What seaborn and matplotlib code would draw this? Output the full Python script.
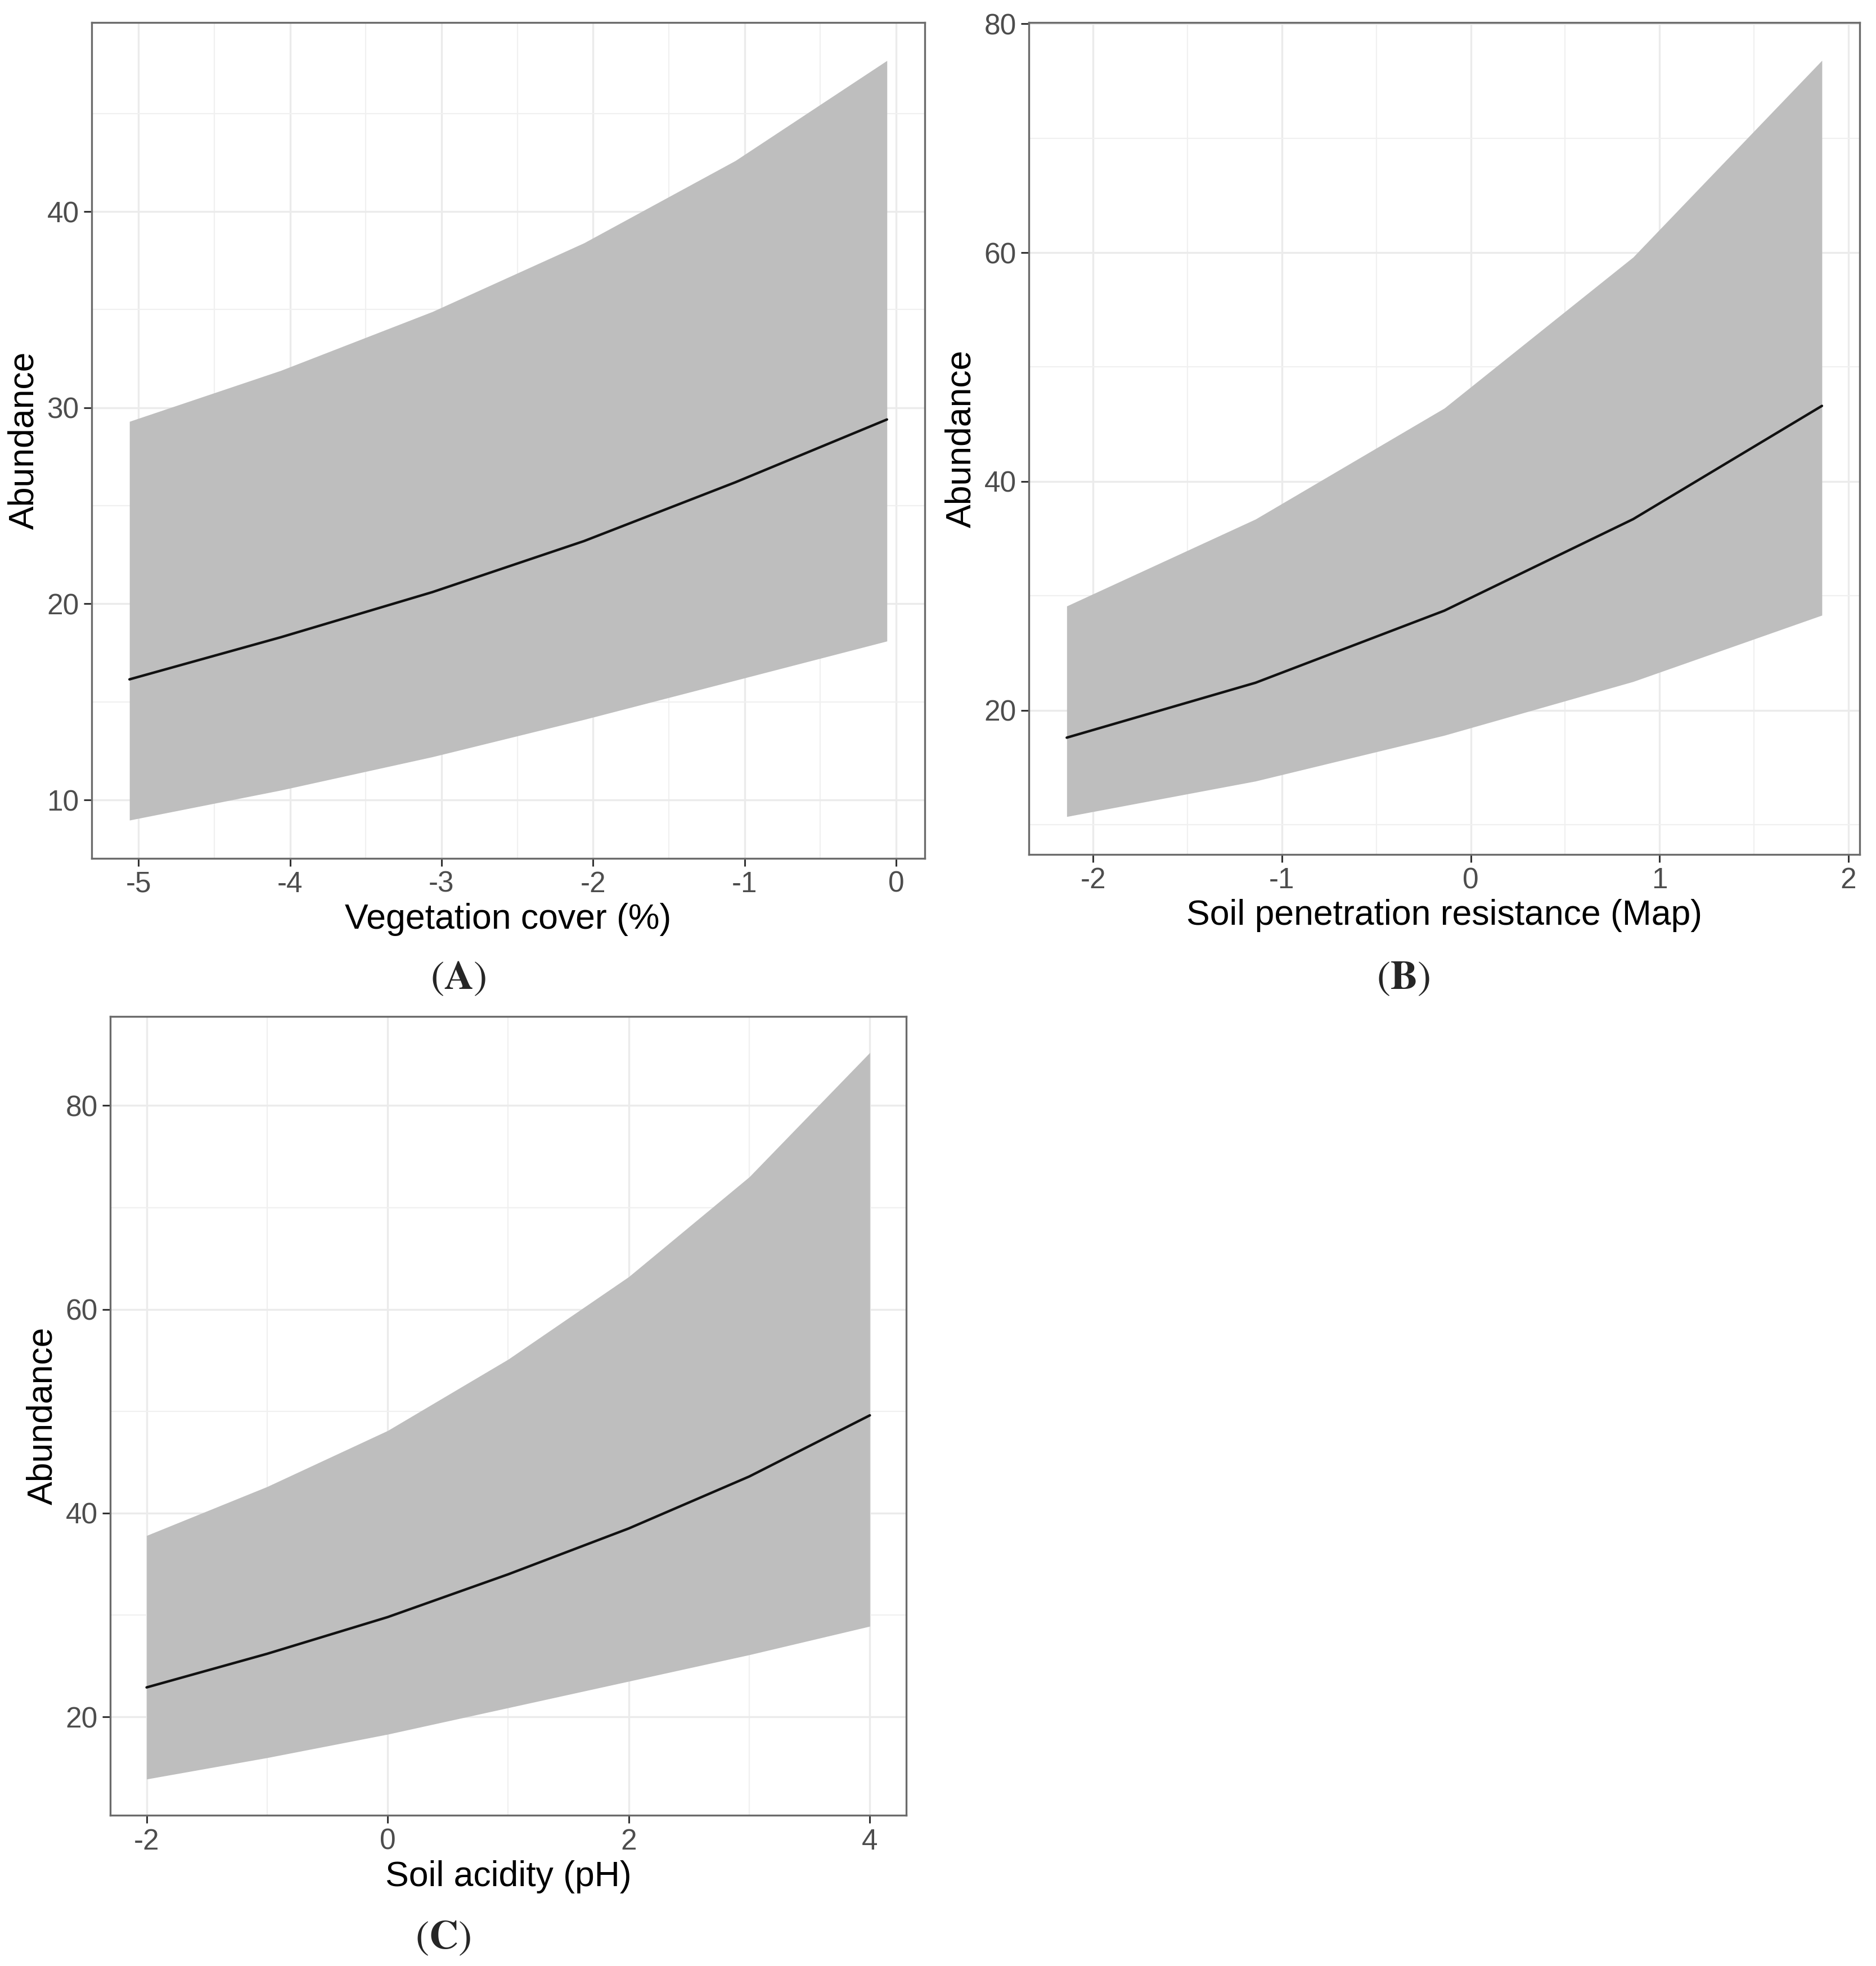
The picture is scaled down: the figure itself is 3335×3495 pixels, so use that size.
import numpy as np
import pandas as pd
import matplotlib
matplotlib.use("Agg")
import matplotlib.pyplot as plt
import seaborn as sns
from matplotlib.ticker import MultipleLocator

# Panel A: vegetation cover
veg_x = [-5.06, -4.06, -3.06, -2.06, -1.06, -0.06]
veg_fit = [16.15, 18.3, 20.6, 23.2, 26.2, 29.4]
veg_low = [8.97, 10.5, 12.2, 14.1, 16.1, 18.1]
veg_high = [29.3, 31.9, 34.9, 38.4, 42.6, 47.7]

# Panel B: soil penetration resistance
spr_x = [-2.14, -1.14, -0.14, 0.86, 1.86]
spr_fit = [17.6, 22.4, 28.7, 36.7, 46.6]
spr_low = [10.7, 13.8, 17.8, 22.5, 28.3]
spr_high = [29.1, 36.7, 46.4, 59.6, 76.8]

# Panel C: soil acidity
ph_x = [-2, -1, 0, 1, 2, 3, 4]
ph_fit = [22.9, 26.2, 29.8, 34.0, 38.5, 43.6, 49.6]
ph_low = [13.9, 16.0, 18.3, 20.9, 23.5, 26.1, 28.9]
ph_high = [37.8, 42.6, 48.1, 55.1, 63.2, 73.0, 85.2]

sns.set_theme(style="white")
plt.rcParams["font.family"] = ["Liberation Sans", "DejaVu Sans"]
plt.rcParams["mathtext.fontset"] = "stix"
plt.rcParams["axes.unicode_minus"] = False

fig = plt.figure(figsize=(16.675, 17.475), dpi=200)
W, H = 1495, 1567

def add_axes(l, t, r, b):
    return fig.add_axes([l / W, 1 - b / H, (r - l) / W, (b - t) / H])

panels = [
    (add_axes(73, 18, 737, 684), veg_x, veg_fit, veg_low, veg_high,
     "Vegetation cover (%)", 1, 0.5, 10, 5),
    (add_axes(820, 18, 1482, 681), spr_x, spr_fit, spr_low, spr_high,
     "Soil penetration resistance (Map)", 1, 0.5, 20, 10),
    (add_axes(88, 810, 722, 1447), ph_x, ph_fit, ph_low, ph_high,
     "Soil acidity (pH)", 2, 1, 20, 10),
]

for ax, x, fit, low, high, xlabel, xmaj, xmin, ymaj, ymin in panels:
    df = pd.DataFrame({"x": x, "fit": fit, "low": low, "high": high})
    ax.fill_between(df["x"], df["low"], df["high"], color="#bebebe", lw=0, zorder=2)
    sns.lineplot(data=df, x="x", y="fit", ax=ax, color="#111111", lw=1.6, zorder=3)
    ax.margins(x=0.05, y=0.05)
    ax.xaxis.set_major_locator(MultipleLocator(xmaj))
    ax.xaxis.set_minor_locator(MultipleLocator(xmin))
    ax.yaxis.set_major_locator(MultipleLocator(ymaj))
    ax.yaxis.set_minor_locator(MultipleLocator(ymin))
    ax.grid(which="major", color="#ebebeb", lw=1.2, zorder=0)
    ax.grid(which="minor", color="#f0f0f0", lw=0.8, zorder=0)
    ax.set_axisbelow(True)
    for s in ax.spines.values():
        s.set_color("#6b6b6b")
        s.set_linewidth(1.2)
    ax.tick_params(which="major", direction="out", length=5, width=1.1,
                   color="#333333", labelsize=18.5, labelcolor="#4d4d4d", pad=3,
                   bottom=True, left=True)
    ax.tick_params(which="minor", length=0)
    ax.set_xlabel(xlabel, fontsize=22.5, color="black", labelpad=3)
    ax.set_ylabel("Abundance", fontsize=22.5, color="black", labelpad=4)

for label, px, py in [("A", 365, 780), ("B", 1118, 780), ("C", 353, 1545)]:
    fig.text(px / W, 1 - py / H, r"$(\mathbf{%s})$" % label, fontsize=26,
             ha="center", va="center")

fig.savefig("out.png", dpi=200, facecolor="white")
